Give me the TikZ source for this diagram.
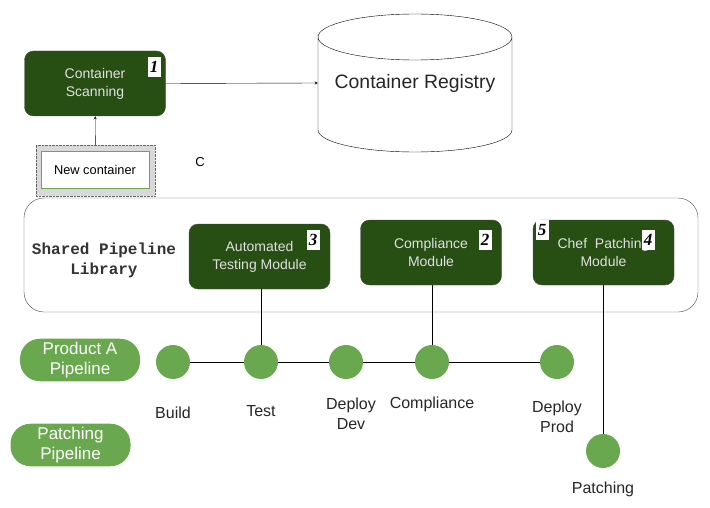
\documentclass[tikz,border=0pt]{standalone}
\usepackage{fontspec}
\setmainfont{Liberation Sans}
\newfontfamily\monob{Liberation Mono}
\newfontfamily\numf{Liberation Serif}
\definecolor{dkgreen}{HTML}{274E13}
\definecolor{ltgreen}{HTML}{6AA84F}
\definecolor{txtgray}{HTML}{E0E0E0}
\newcommand{\tag}[1]{\numf\bfseries\itshape #1}
\begin{document}
\begin{tikzpicture}[x=1pt,y=-1pt]
\tikzstyle{module} = [draw=black!70,rounded corners=9,fill=dkgreen,text=txtgray,
                      minimum width=141,minimum height=65,align=center,font=\fontsize{14}{18}\selectfont]
\tikzstyle{num} = [fill=white,inner sep=1.5,minimum width=13,minimum height=20,font=\fontsize{17}{17}\selectfont]
\tikzstyle{stage} = [circle,fill=ltgreen,minimum size=34,inner sep=0]
\tikzstyle{pipe} = [rounded corners=20,fill=ltgreen,text=white,minimum width=120,minimum height=40,
                    align=center,font=\fontsize{17}{20}\selectfont]
\tikzstyle{lbl} = [align=center,font=\fontsize{16}{20}\selectfont,text=black!85]
\tikzstyle{stealth} = [-stealth]
\useasboundingbox (0,0) rectangle (710,508);
% top part
\node [module] (v1) at (95,83.5) {Container\\Scanning};
\node [num] at (154,67) {\tag{1}};
\node [draw=black!60,densely dotted,fill=black!15,minimum width=119,minimum height=51] (v2) at (95.5,170.5) {};
\node [draw=ltgreen,fill=white,minimum width=108,minimum height=37,font=\fontsize{12.8}{14}\selectfont] (v3) at (95,169.5) {New container};
\node [minimum width=194,minimum height=138,font=\fontsize{19.4}{22}\selectfont,text=black!85] (v4) at (415,83) {Container Registry};
\draw (318,37) arc (180:360:97 and 23) arc (0:180:97 and 23) -- (318,130)
      arc (180:0:97 and 22) -- (512,37);
\node [font=\fontsize{13}{14}\selectfont] at (200,162) {C};
\draw [stealth] (v2) -- (v1);
\draw [stealth] (v1.east) -- (v4.west);
% shared library
\node [draw=black!70,rounded corners=20,minimum width=674,minimum height=114] (v5) at (361,255) {};
\node [align=center,font=\monob\bfseries\fontsize{16}{20}\selectfont,text=black!80] (v6) at (104,260) {Shared Pipeline\\Library};
\node [module] (v7) at (259.5,256.5) {Automated\\Testing Module};
\node [num] at (313,240) {\tag{3}};
\node [module] (v8) at (431,252.5) {Compliance\\Module};
\node [num] at (485,240) {\tag{2}};
\node [module] (v9) at (603.5,252.5) {Chef\ \ Patching\\Module};
\node [num] at (542,230) {\tag{5}};
\node [num] at (648,240) {\tag{4}};
% pipelines
\node [pipe] (v10) at (80,360) {Product A\\Pipeline};
\node [pipe] (v11) at (70.5,445) {Patching\\Pipeline};
\node [stage] (v12) at (173,362) {};
\node [stage] (v13) at (261,362) {};
\node [stage] (v14) at (346,362) {};
\node [stage] (v15) at (432,362) {};
\node [stage] (v16) at (557,362) {};
\node [stage] (v17) at (603,451) {};
\draw (v12) -- (v13) -- (v14) -- (v15) -- (v16);
\draw (v13) -- (v13 |- v7.south);
\draw (v15) -- (v15 |- v8.south);
\draw (v17) -- (v17 |- v9.south);
\node [lbl] at (173,413) {Build};
\node [lbl] at (261,411) {Test};
\node [lbl] at (351,414) {Deploy\\Dev};
\node [lbl] at (432,404) {Compliance};
\node [lbl] at (557,417) {Deploy\\Prod};
\node [lbl] at (603,489) {Patching};
\end{tikzpicture}
\end{document}
